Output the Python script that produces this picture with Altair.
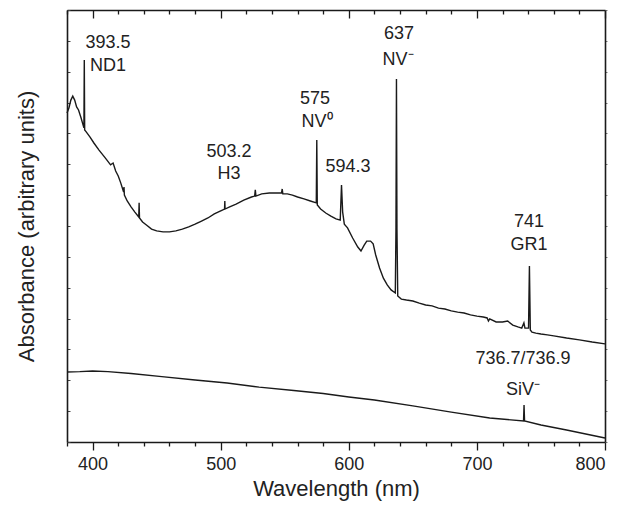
import altair as alt
import pandas as pd

# ---- data (wavelength in nm, absorbance in arbitrary units) ----
upper_nm = [380, 381.5, 383, 384.5, 386, 387.5, 389, 391, 393.2, 393.5, 393.8, 395, 398, 401, 405, 410,
            414, 416, 418, 420, 422, 424.2, 424.5, 424.8, 427, 430, 433, 436, 436.3, 436.6, 439, 442,
            446, 450, 455, 460, 465, 470, 475, 480, 485, 490, 495, 500, 503, 503.2, 503.4, 507, 512,
            518, 524, 526.5, 527, 527.5, 532, 538, 543, 547.5, 548, 548.5, 552, 556, 560, 565, 570,
            574.6, 575, 575.4, 578, 582, 586, 590, 593.3, 594.3, 595.2, 596.5, 599, 603, 607, 609.5,
            612, 614, 617, 619, 621, 624, 627, 630, 633, 636.3, 636.8, 637.2, 637.6, 638.2, 641, 645,
            650, 655, 660, 665, 670, 675, 680, 685, 690, 695, 700, 705, 708, 709, 710, 715, 720, 724,
            728, 732, 735, 736.7, 737.5, 740.3, 741, 741.7, 743, 746, 750, 755, 760, 770, 780, 790, 800]
upper_abs = [10.66, 10.82, 11.08, 11.21, 11.08, 10.86, 10.76, 10.50, 10.18, 12.38, 10.11, 10.05, 9.88, 9.69, 9.46, 9.20,
             8.98, 9.04, 8.78, 8.62, 8.39, 8.10, 8.26, 8.00, 7.81, 7.62, 7.45, 7.29, 7.75, 7.26, 7.13, 7.03,
             6.90, 6.84, 6.81, 6.81, 6.84, 6.90, 6.97, 7.06, 7.16, 7.26, 7.39, 7.49, 7.55, 7.81, 7.55, 7.62, 7.71,
             7.84, 7.94, 7.97, 8.17, 7.97, 8.04, 8.07, 8.07, 8.07, 8.20, 8.04, 8.04, 8.00, 7.94, 7.88, 7.81,
             7.75, 9.79, 7.68, 7.55, 7.42, 7.32, 7.23, 7.19, 8.33, 7.45, 7.06, 6.94, 6.61, 6.32, 6.19,
             6.38, 6.51, 6.51, 6.42, 6.06, 5.64, 5.31, 5.09, 4.93, 4.83, 6.87, 11.76, 6.87, 4.73, 4.63, 4.60,
             4.57, 4.50, 4.44, 4.41, 4.34, 4.31, 4.25, 4.21, 4.18, 4.12, 4.08, 4.05, 4.02, 3.92, 3.99, 3.89, 3.89, 3.92,
             3.79, 3.73, 3.69, 3.86, 3.69, 3.69, 5.70, 3.63, 3.56, 3.53, 3.50, 3.47, 3.44, 3.37, 3.31, 3.24, 3.18]

lower_nm = [380, 390, 400, 412, 430, 454, 480, 505, 530, 557, 580, 600, 620, 650, 680, 710,
            736.4, 736.8, 737.2, 750, 770, 800]
lower_abs = [2.27, 2.28, 2.30, 2.28, 2.22, 2.12, 2.01, 1.91, 1.78, 1.67, 1.57, 1.46, 1.36, 1.17, 0.97, 0.78,
             0.68, 1.20, 0.68, 0.55, 0.39, 0.13]

label_text = ["393.5", "ND1", "503.2", "H3", "575", "NV\u2070", "594.3", "637", "NV\u207b",
              "741", "GR1", "736.7/736.9", "SiV\u207b"]
label_nm = [412, 412, 506.5, 506.5, 573.6, 575.2, 599.4, 639.2, 638.4, 740.6, 740.6, 736, 736]
label_abs = [12.93, 12.19, 9.40, 8.69, 11.12, 10.37, 8.91, 13.22, 12.38, 7.13, 6.38, 2.69, 1.69]

x_ticks = list(range(380, 801, 20))
y_ticks = list(range(0, 15))

FONT = "Liberation Sans"
INK = "#1a1a1a"
TXT = "#222222"

xscale = alt.Scale(domain=[380, 800], nice=False, zero=False)
yscale = alt.Scale(domain=[0, 14], nice=False, zero=False)
tick_out = {"condition": {"test": "datum.value % 100 === 0", "value": 8}, "value": 4}
tick_in = {"condition": {"test": "datum.value % 100 === 0", "value": -8}, "value": -4}

upper_df = pd.DataFrame({"nm": upper_nm, "a": upper_abs})
lower_df = pd.DataFrame({"nm": lower_nm, "a": lower_abs})
label_df = pd.DataFrame({"nm": label_nm, "a": label_abs, "t": label_text})

upper = alt.Chart(upper_df).mark_line(color=INK, strokeWidth=1.4).encode(
    x=alt.X("nm:Q", scale=xscale, title="Wavelength (nm)",
            axis=alt.Axis(orient="bottom", values=x_ticks, tickSize=tick_out, tickColor=INK,
                          tickWidth=1.3, domainColor=INK, domainWidth=1.6, grid=False,
                          labelExpr="datum.value % 100 === 0 ? datum.label : ''",
                          labelFont=FONT, labelFontSize=18, labelColor=TXT, labelPadding=5,
                          titleFont=FONT, titleFontSize=22, titleFontWeight="normal",
                          titleColor=TXT, titleX=269, titleY=58, titleBaseline="bottom")),
    y=alt.Y("a:Q", scale=yscale, title="Absorbance (arbitrary units)",
            axis=alt.Axis(orient="left", values=y_ticks, tickSize={"expr": "-3"}, tickColor="#444",
                          labels=False, grid=False,
                          domainColor=INK, domainWidth=1.6,
                          titleFont=FONT, titleFontSize=22, titleFontWeight="normal",
                          titleColor=TXT, titleX=-34, titleY=216, titleBaseline="alphabetic",
                          titleAngle=270)),
)

lower = alt.Chart(lower_df).mark_line(color=INK, strokeWidth=1.4).encode(
    x=alt.X("nm:Q", scale=xscale, title=None,
            axis=alt.Axis(orient="top", values=x_ticks, tickSize=tick_in,
                          tickColor=INK, tickWidth=1.3, labels=False, grid=False,
                          domainColor=INK, domainWidth=1.6)),
    y=alt.Y("a:Q", scale=yscale, title=None,
            axis=alt.Axis(orient="right", values=y_ticks, tickSize=2, tickColor="#777",
                          labels=False, grid=False, domainColor=INK, domainWidth=1.6)),
)

labels = alt.Chart(label_df).mark_text(font=FONT, fontSize=18, color=TXT, align="center",
                                       baseline="middle").encode(
    x=alt.X("nm:Q", scale=xscale, axis=None),
    y=alt.Y("a:Q", scale=yscale, axis=None),
    text="t:N",
)

chart = alt.layer(upper, lower, labels).resolve_axis(x="independent", y="independent").properties(
    width=538, height=432,
    autosize=alt.AutoSizeParams(type="none"),
    padding={"left": 59, "top": 2, "right": 8, "bottom": 61},
    background="white",
).configure_view(stroke=None)

chart.save("out.html", embed_options={"renderer": "svg", "actions": False})
